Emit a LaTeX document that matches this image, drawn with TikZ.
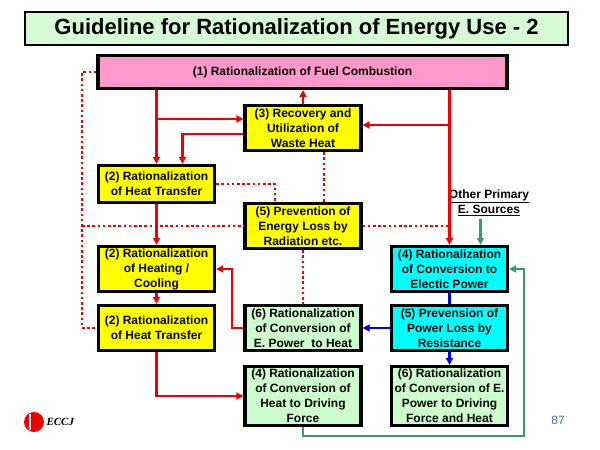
\documentclass[tikz,border=0pt]{standalone}
\usepackage{fontspec}
\setmainfont{Liberation Sans}
\newfontfamily\logofont{Liberation Serif}
\usetikzlibrary{arrows.meta}
\definecolor{pinkbox}{RGB}{255,153,204}
\definecolor{yelbox}{RGB}{255,255,0}
\definecolor{cyanbox}{RGB}{0,255,255}
\definecolor{grnbox}{RGB}{204,255,204}
\definecolor{ttlbox}{RGB}{214,250,214}
\definecolor{redln}{RGB}{240,0,0}
\definecolor{bluln}{RGB}{0,0,230}
\definecolor{grnln}{RGB}{60,150,110}
\definecolor{pgnum}{RGB}{70,110,160}
\tikzset{
  box/.style={draw=black,line width=3.2pt,minimum width=116pt,minimum height=45pt,
    align=center,inner sep=0pt,font=\bfseries\fontsize{12}{15}\selectfont},
  ybox/.style={box,fill=yelbox},
  cbox/.style={box,fill=cyanbox},
  gbox/.style={box,fill=grnbox},
  redline/.style={draw=redln,line width=2.4pt},
  redarrow/.style={redline,-{Triangle[length=7pt,width=7pt]}},
  bluarrow/.style={draw=bluln,line width=2.4pt,-{Triangle[length=7pt,width=7pt]}},
  grnarrow/.style={draw=grnln,line width=2.4pt,-{Triangle[length=7pt,width=7pt]}},
  dots/.style={draw=redln,line width=2.6pt,dash pattern=on 2.6pt off 2.6pt}
}
\begin{document}
\begin{tikzpicture}[x=1pt,y=-1pt]
\useasboundingbox (0,0) rectangle (600,450);
% title
\node[draw=black,line width=2.5pt,fill=ttlbox,minimum width=543pt,minimum height=33pt,
  font=\bfseries\fontsize{22}{26}\selectfont] (title) at (296.5,28.5) {Guideline for Rationalization of Energy Use - 2};

% boxes
\node[box,fill=pinkbox,minimum width=409pt,minimum height=33pt] (fuel) at (302.5,72) {(1) Rationalization of Fuel Combustion};
\node[ybox] (waste) at (303,128) {(3) Recovery and\\Utilization of\\Waste Heat};
\node[ybox,minimum height=37pt] (htA) at (156.5,184) {(2) Rationalization\\of Heat Transfer};
\node[ybox] (prev) at (303,226) {(5) Prevention of\\Energy Loss by\\Radiation etc.};
\node[ybox] (heat) at (156.5,269) {(2) Rationalization\\of Heating /\\Cooling};
\node[cbox] (conv) at (449.5,269) {(4) Rationalization\\of Conversion to\\Electic Power};
\node[ybox] (htB) at (156.5,328) {(2) Rationalization\\of Heat Transfer};
\node[gbox] (ephe) at (303,328) {(6) Rationalization\\of Conversion of\\E. Power\ \ to Heat};
\node[cbox] (loss) at (449.5,328) {(5) Prevension of\\Power Loss by\\Resistance};
\node[gbox,minimum height=59pt] (drive) at (303,396) {(4) Rationalization\\of Conversion of\\Heat to Driving\\Force};
\node[gbox,minimum height=59pt] (edrive) at (449.5,396) {(6) Rationalization\\of Conversion of E.\\Power to Driving\\Force and Heat};
\node[align=center,font=\bfseries\fontsize{12}{15}\selectfont] (src) at (489,203)
  {\underline{Other Primary}\\\underline{E. Sources}};

% red flows
\coordinate (w1) at ([yshift=9pt]waste.west);
\coordinate (w2) at ([yshift=-6pt]waste.west);
\coordinate (w3) at ([yshift=3pt]waste.east);
\draw[redarrow] (fuel.south -| htA.north) -- (htA.north);
\draw[redarrow] (w1 -| htA.north) -- (w1);
\draw[redarrow] (w2) -| ([xshift=26pt]htA.north);
\draw[redarrow] (waste.north) -- (waste.north |- fuel.south);
\draw[redarrow] (fuel.south -| conv.north) -- (conv.north);
\draw[redarrow] (w3 -| conv.north) -- (w3);
\draw[redarrow] (htA.south) -- (heat.north);
\draw[redarrow] (heat.south) -- (htB.north);
\coordinate (r1) at ([xshift=16pt]heat.east);
\draw[redarrow] (ephe.west) -| (r1) -- (heat.east);
\draw[redarrow] (htB.south) |- (drive.west);

% dotted links
\coordinate (edge) at (82,0);
\draw[dots] (fuel.west) -| (edge |- htB.west) -- (htB.west);
\draw[dots] (edge |- prev.west) -- (prev.west);
\draw[dots] (prev.east) -- (prev.east -| conv.north);
\draw[dots] (htA.east) -| ([xshift=-28pt]prev.north);
\draw[dots] ([xshift=21pt]waste.south) -- ([xshift=21pt]prev.north);
\draw[dots] (prev.south) -- (ephe.north);

% blue flows
\draw[draw=bluln,line width=2.4pt] (conv.south) -- (loss.north);
\draw[bluarrow] (loss.west) -- (ephe.east);
\draw[bluarrow] (loss.south) -- (edrive.north);

% green flows
\coordinate (g1) at ([xshift=31pt]conv.north);
\draw[grnarrow] (g1 |- src.south) -- (g1);
\coordinate (gc) at (524,436);
\draw[grnarrow] (drive.south) |- (gc) |- (conv.east);

% footer
\fill[redln] (34,422) circle (10pt);
\draw[white,line width=1.5pt] (30,414) -- (30,430);
\node[font=\logofont\bfseries\itshape\fontsize{11}{13}\selectfont,anchor=west] (logo) at (43,422) {ECCJ};
\node[text=pgnum,font=\fontsize{12}{14}\selectfont] (page) at (558,420) {87};
\end{tikzpicture}
\end{document}
